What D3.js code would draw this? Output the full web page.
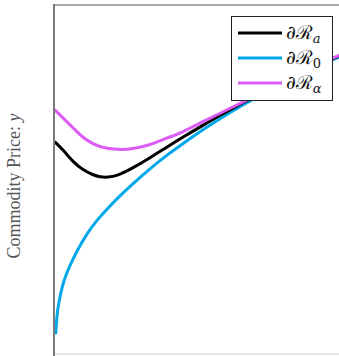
<!DOCTYPE html>
<html><head><meta charset="utf-8">
<script src="https://cdn.jsdelivr.net/npm/d3@7"></script>
<style>html,body{margin:0;padding:0;background:#fff;overflow:hidden}</style>
</head><body><svg id="c" width="339" height="356"></svg>
<script>
// Data (x: position along horizontal axis 0..100, y: commodity price 0..100)
const xA = [0.35,3.2,6.7,10.2,13.7,16.1,18.9,22.1,27.7,33.7,39.6,45.3,51.2,57.2,65.3,68.8,82.8,100];
const yA = [60.7,58.5,55.0,52.7,51.3,50.7,50.6,51.0,53.3,56.2,59.3,62.2,65.0,67.9,71.6,73.1,78.9,85.4];
const x0 = [0.6,1.16,2.35,3.5,5.3,8.2,11.7,15.1,18.6,22.1,27.7,33.7,39.6,45.3,51.2,57.2,62.8,68.8,75.8,82.8,89.8,100];
const y0 = [6.0,12.6,17.5,21.2,24.9,29.8,34.7,38.4,41.5,44.5,48.8,53.1,57.0,60.3,63.7,66.9,69.7,72.5,75.7,78.7,81.5,85.1];
const xAl = [0.35,3.2,6.7,10.2,13.7,16.1,22.1,27.7,33.7,39.6,45.3,51.2,57.2,67.7,82.8,100];
const yAl = [69.9,67.6,64.8,61.9,60.2,59.3,58.5,58.7,59.9,61.9,63.6,66.2,68.5,72.8,78.8,85.6];
const seriesNames = ["a","0","α"];
const seriesColors = ["#000000","#00a8ea","#dc5cf5"];

const svg = d3.select("#c");
const L = 54, R = 339, T = 5, B = 354;
const x = d3.scaleLinear().domain([0,100]).range([L,R]);
const y = d3.scaleLinear().domain([0,100]).range([B,T]);

svg.append("clipPath").attr("id","clip").append("rect")
  .attr("x",L).attr("y",T).attr("width",R-L+10).attr("height",B-T);

const series = [
  {xs:xA, ys:yA},
  {xs:x0, ys:y0},
  {xs:xAl, ys:yAl}
];
const line = d3.line().x(d=>x(d[0])).y(d=>y(d[1])).curve(d3.curveBasis);
const g = svg.append("g").attr("clip-path","url(#clip)");
// draw order: blue, black, purple
[1,0,2].forEach(i=>{
  const s = series[i];
  g.append("path").datum(s.xs.map((v,k)=>[v,s.ys[k]]))
    .attr("d",line).attr("fill","none").attr("stroke",seriesColors[i])
    .attr("stroke-width",3).attr("stroke-linejoin","round").attr("stroke-linecap","round");
});

// frame
svg.append("line").attr("x1",L).attr("x2",R+10).attr("y1",B).attr("y2",B).attr("stroke","#dddddd").attr("stroke-width",1.5);
svg.append("line").attr("x1",L).attr("x2",R+10).attr("y1",T).attr("y2",T).attr("stroke","#a8a8a8").attr("stroke-width",2);
svg.append("line").attr("x1",L).attr("x2",L).attr("y1",T-1).attr("y2",B+2).attr("stroke","#7a7a7a").attr("stroke-width",2);

// y label
const yl = svg.append("text").attr("transform","translate(20,186) rotate(-90)")
  .attr("text-anchor","middle").attr("font-family","'Liberation Serif','DejaVu Serif',serif")
  .attr("font-size",18).attr("fill","#555");
yl.append("tspan").text("Commodity Price: ");
yl.append("tspan").attr("font-style","italic").text("y");

// legend
const lg = svg.append("g");
lg.append("rect").attr("x",231.5).attr("y",16.5).attr("width",101).attr("height",84)
  .attr("fill","#fff").attr("stroke","#222").attr("stroke-width",1);
seriesNames.forEach((n,i)=>{
  const cy = 33 + i*25;
  lg.append("line").attr("x1",238).attr("x2",282).attr("y1",cy).attr("y2",cy)
    .attr("stroke",seriesColors[i]).attr("stroke-width",3);
  const t = lg.append("text").attr("x",286).attr("y",cy+6)
    .attr("font-family","'DejaVu Serif','Liberation Serif',serif").attr("font-size",19).attr("fill","#111");
  t.append("tspan").text("∂ℛ");
  t.append("tspan").attr("font-size",13).attr("dy",4)
    .attr("font-style", n==="0" ? "normal" : "italic").text(n);
});
</script></body></html>
